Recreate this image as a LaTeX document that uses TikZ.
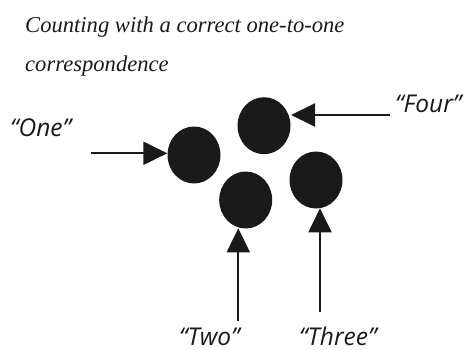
\documentclass[tikz,border=0pt]{standalone}
\usepackage{fontspec}
\setmainfont{Liberation Serif}
\newfontfamily\labelfont{Open Sans}
\usetikzlibrary{arrows.meta,shapes.geometric}
\definecolor{ink}{HTML}{1A1A1A}
\tikzset{
  dot/.style={ellipse,fill=ink,minimum width=53pt,minimum height=57pt,inner sep=0pt},
  pointer/.style={draw=ink,line width=2pt,-{Triangle[length=24pt,width=23pt]}},
  word/.style={font=\labelfont\itshape\fontsize{24.5}{28}\selectfont,text=ink,inner sep=0pt,anchor=base west},
  titletext/.style={font=\itshape\fontsize{22.6}{26}\selectfont,text=ink,inner sep=0pt,anchor=base west}
}
\begin{document}
\begin{tikzpicture}[x=1pt,y=-1pt]
\useasboundingbox (0,0) rectangle (465,350);
\node[titletext] (t1) at (25,32.7) {Counting with a correct one-to-one};
\node[titletext] (t2) at (25,71.7) {correspondence};
\node[dot] (c1) at (194,155) {};
\node[dot] (c4) at (264,125.7) {};
\node[dot] (c2) at (245.7,200) {};
\node[dot] (c3) at (316,180) {};
\node[word] (l1) at (10,136) {“One”};
\node[word] (l4) at (395,112) {“Four”};
\node[word] (l2) at (179,345.5) {“Two”};
\node[word] (l3) at (299,345.5) {“Three”};
\coordinate (s1) at (90.7,153.3);
\coordinate (s4) at (390,115);
\coordinate (s2) at (238.3,320.7);
\coordinate (s3) at (320,311.7);
\draw[pointer] (s1) -- (c1.west |- s1);
\draw[pointer] (s4) -- (291,115);
\draw[pointer] (s2) -- (238.3,228.3);
\draw[pointer] (s3) -- (320,208.3);
\end{tikzpicture}
\end{document}
